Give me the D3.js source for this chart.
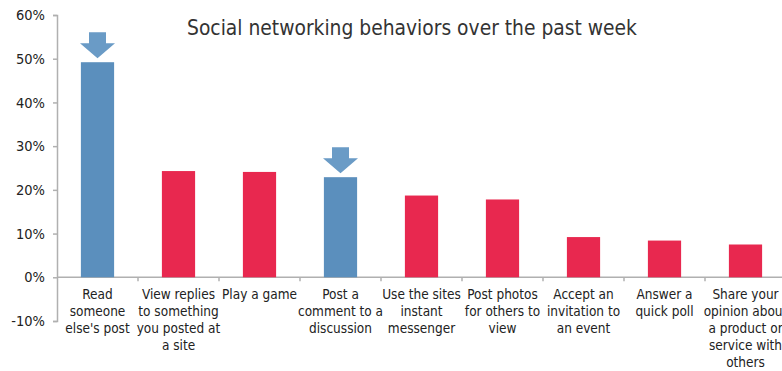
<!DOCTYPE html>
<html>
<head>
<meta charset="utf-8">
<script src="https://cdn.jsdelivr.net/npm/d3@7"></script>
<style>
  body { margin: 0; background: #fff; }
  svg { display: block; }
</style>
</head>
<body>
<div id="chart"></div>
<script>
const categories = [
  ["Read", "someone", "else's post"],
  ["View replies", "to something", "you posted at", "a site"],
  ["Play a game"],
  ["Post a", "comment to a", "discussion"],
  ["Use the sites", "instant", "messenger"],
  ["Post photos", "for others to", "view"],
  ["Accept an", "invitation to", "an event"],
  ["Answer a", "quick poll"],
  ["Share your", "opinion about", "a product or", "service with", "others"]
];
const values = [49.2, 24.3, 24.1, 22.9, 18.7, 17.8, 9.2, 8.4, 7.5];
const highlighted = [true, false, false, true, false, false, false, false, false];
const yTicks = [-10, 0, 10, 20, 30, 40, 50, 60];
const title = "Social networking behaviors over the past week";

const W = 782, H = 371;
const BLUE = "#5b8fbd", RED = "#e8284f", ARROW = "#6a9bc6", AXIS = "#b0b0b0";
const FONT = "'DejaVu Sans Condensed', 'Liberation Sans Narrow', 'DejaVu Sans', sans-serif";

const svg = d3.select("#chart").append("svg")
  .attr("width", W).attr("height", H)
  .style("font-family", FONT);

const x = d3.scaleBand()
  .domain(d3.range(categories.length))
  .range([57, 786])
  .paddingInner(0.59)
  .paddingOuter(0.295);

const y = d3.scaleLinear().domain([-10, 60]).range([321, 15]);

// y axis
const yAxis = svg.append("g")
  .attr("transform", "translate(57,0)")
  .call(d3.axisLeft(y).tickValues(yTicks).tickSize(4).tickPadding(8)
    .tickFormat(d => d + "%"));
yAxis.select(".domain").attr("stroke", AXIS).attr("stroke-width", 1.5);
yAxis.selectAll(".tick line").attr("stroke", AXIS).attr("stroke-width", 1.5);
yAxis.selectAll(".tick text")
  .attr("fill", "#222").attr("font-size", "14.5px").attr("font-family", FONT);

// zero line with category boundary ticks
svg.append("line")
  .attr("x1", 57).attr("x2", W)
  .attr("y1", y(0)).attr("y2", y(0))
  .attr("stroke", AXIS).attr("stroke-width", 1.5);

const step = x.step();
const left = x(0) - x.paddingOuter() * step;
svg.selectAll(".ctick")
  .data(d3.range(1, categories.length))
  .join("line")
  .attr("x1", d => left + d * step)
  .attr("x2", d => left + d * step)
  .attr("y1", y(0)).attr("y2", y(0) + 4)
  .attr("stroke", AXIS).attr("stroke-width", 1.5);

// bars
svg.selectAll(".bar")
  .data(values)
  .join("rect")
  .attr("x", (d, i) => x(i))
  .attr("width", x.bandwidth())
  .attr("y", d => y(d))
  .attr("height", d => y(0) - y(d))
  .attr("fill", (d, i) => highlighted[i] ? BLUE : RED);

// arrows above highlighted bars
const arrowPath = (cx, tip) => {
  const sw = 8.5, hw = 17.5, headH = 15, totalH = 26;
  const top = tip - totalH, neck = tip - headH;
  return `M${cx - sw},${top}H${cx + sw}V${neck}H${cx + hw}L${cx},${tip}L${cx - hw},${neck}H${cx - sw}Z`;
};
svg.selectAll(".arrow")
  .data(values.map((v, i) => ({ v, i })).filter(d => highlighted[d.i]))
  .join("path")
  .attr("d", d => arrowPath(x(d.i) + x.bandwidth() / 2, y(d.v) - 4))
  .attr("fill", ARROW);

// category labels
const labels = svg.selectAll(".lab")
  .data(categories)
  .join("text")
  .attr("text-anchor", "middle")
  .attr("fill", "#222")
  .attr("font-size", "13.5px")
  .attr("transform", (d, i) => `translate(${x(i) + x.bandwidth() / 2},${y(0) + 22})`);
labels.selectAll("tspan")
  .data(d => d)
  .join("tspan")
  .attr("x", 0)
  .attr("dy", (d, i) => i === 0 ? 0 : 17)
  .text(d => d);

// title
svg.append("text")
  .attr("x", 412).attr("y", 35)
  .attr("text-anchor", "middle")
  .attr("fill", "#333")
  .attr("font-size", "20.8px")
  .text(title);
</script>
</body>
</html>
